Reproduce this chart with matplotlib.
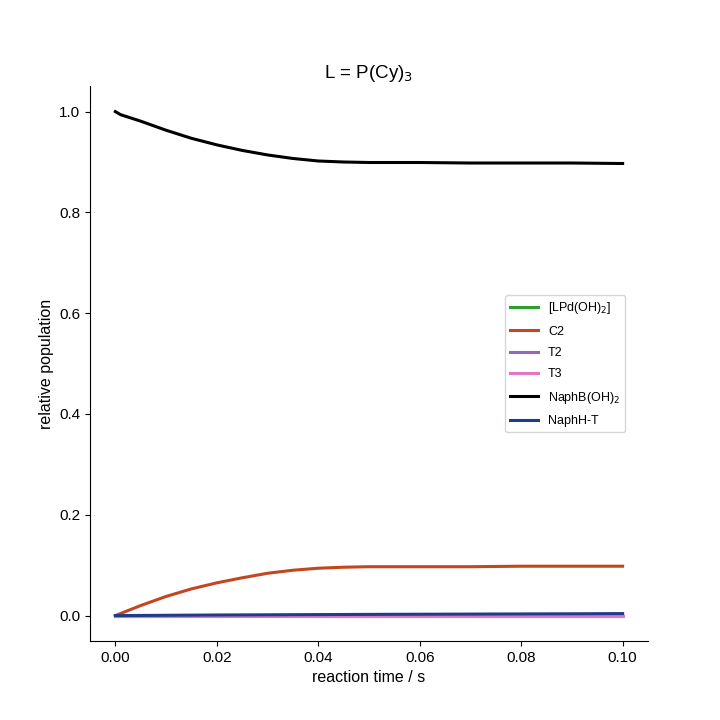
import numpy as np
import matplotlib

matplotlib.use("Agg")
import matplotlib.pyplot as plt

plt.rcParams["font.family"] = ["Liberation Sans", "DejaVu Sans"]

# values
t = [0.0, 0.001, 0.005, 0.01, 0.015, 0.02, 0.025, 0.03, 0.035, 0.04, 0.045, 0.05, 0.06, 0.07, 0.08, 0.09, 0.1]
lpd = [0.0] * len(t)
c2 = [0.0, 0.004, 0.020, 0.038, 0.053, 0.065, 0.075, 0.084, 0.090, 0.094, 0.096, 0.097, 0.097, 0.097, 0.098, 0.098, 0.098]
t2 = [0.0] * len(t)
t3 = [0.0] * len(t)
naphb = [1.0, 0.994, 0.981, 0.963, 0.947, 0.934, 0.923, 0.914, 0.907, 0.902, 0.900, 0.899, 0.899, 0.898, 0.898, 0.898, 0.897]
naphh = [0.0, 0.0, 0.0003, 0.0006, 0.0009, 0.0012, 0.0014, 0.0016, 0.0018, 0.002, 0.0022, 0.0024, 0.0027, 0.003, 0.0033, 0.0036, 0.004]

series = [
    (lpd, "[LPd(OH)$_2$]", "#2ca02c"),
    (c2, "C2", "#c3461e"),
    (t2, "T2", "#9467bd"),
    (t3, "T3", "#e377c2"),
    (naphb, "NaphB(OH)$_2$", "black"),
    (naphh, "NaphH-T", "#1f3c8c"),
]

fig, ax = plt.subplots(figsize=(7.2, 7.2), dpi=100)
fig.subplots_adjust(left=0.125, right=0.9, top=0.88, bottom=0.11)
for y, lab, col in series:
    ax.plot(t, y, color=col, lw=2.2, label=lab)
ax.set_xlim(-0.005, 0.105)
ax.set_ylim(-0.05, 1.05)
ax.set_xticks([0, 0.02, 0.04, 0.06, 0.08, 0.10])
ax.set_xlabel("reaction time / s", fontsize=11.5)
ax.set_ylabel("relative population", fontsize=11.5)
ax.set_title("L = P(Cy)$_3$", fontsize=13.5)
ax.tick_params(labelsize=11)
for s in ["top", "right"]:
    ax.spines[s].set_visible(False)
ax.legend(loc="center right", bbox_to_anchor=(0.97, 0.5), fontsize=9,
          labelspacing=0.75, handlelength=2.2, fancybox=True)
fig.savefig("out.png")
